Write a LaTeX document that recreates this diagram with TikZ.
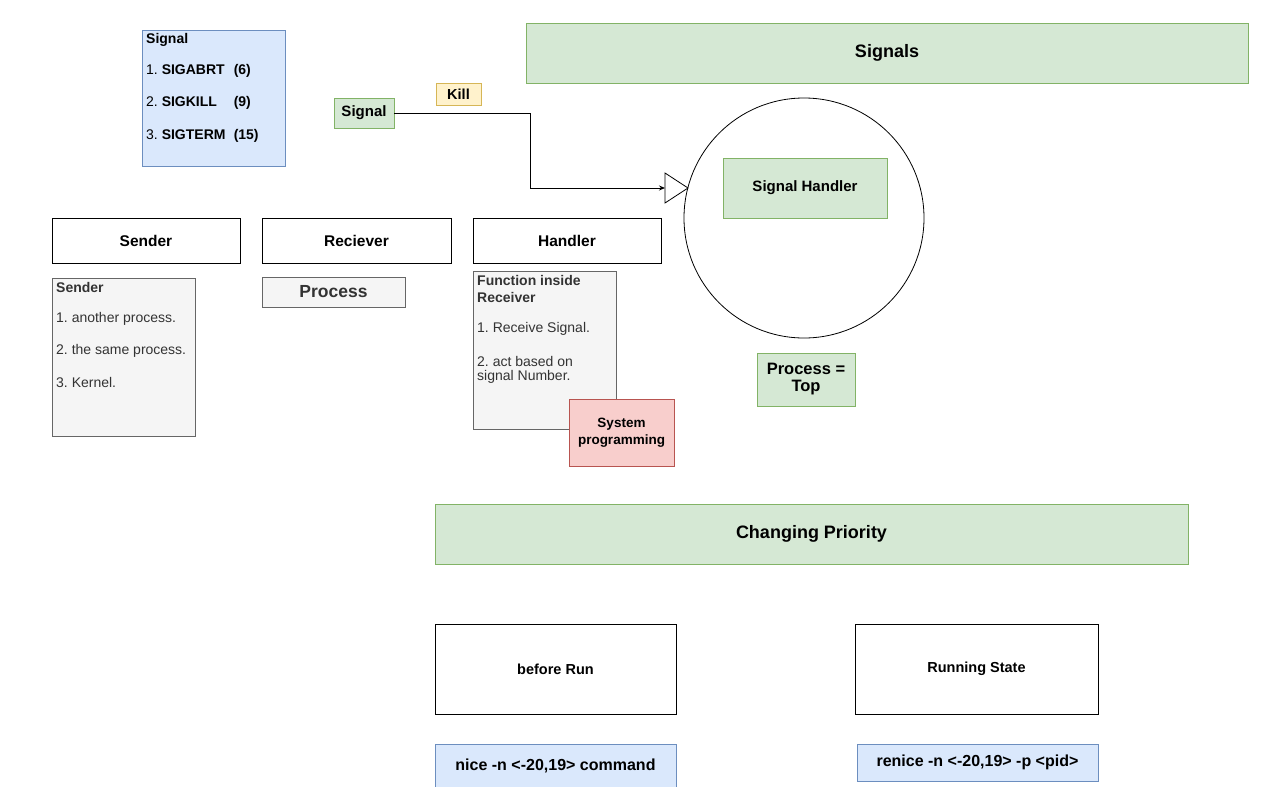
\documentclass[tikz,border=0pt]{standalone}
\usepackage{fontspec}
\setmainfont{Liberation Sans}
\usetikzlibrary{arrows.meta}
\frenchspacing
\definecolor{gfill}{HTML}{D5E8D4}
\definecolor{gdraw}{HTML}{82B366}
\definecolor{bfill}{HTML}{DAE8FC}
\definecolor{bdraw}{HTML}{6C8EBF}
\definecolor{yfill}{HTML}{FFF2CC}
\definecolor{ydraw}{HTML}{D6B656}
\definecolor{rfill}{HTML}{F8CECC}
\definecolor{rdraw}{HTML}{B85450}
\definecolor{sfill}{HTML}{F5F5F5}
\definecolor{sdraw}{HTML}{666666}
\definecolor{stext}{HTML}{333333}
\newcommand{\fs}[1]{\fontsize{#1}{#1}\selectfont}
\tikzset{
  box/.style={draw, line width=0.9pt, inner sep=0pt, align=center},
  green/.style={box, fill=gfill, draw=gdraw},
  blue/.style={box, fill=bfill, draw=bdraw},
  white/.style={box, fill=white, draw=black},
  grey/.style={box, fill=sfill, draw=sdraw, text=stext},
  lbl/.style={anchor=west, inner sep=0pt, align=left},
}
\begin{document}
\begin{tikzpicture}[x=1pt,y=-1pt]
\useasboundingbox (0,0) rectangle (1262,787);
% Signal list
\node[blue, minimum width=143pt, minimum height=136pt] (siglist) at (213.5,98) {};
\node[lbl] (sl0) at (146,39.5) {\fs{14}\textbf{Signal}};
\node[lbl] (sl1) at (146,71) {\fs{14}1. \textbf{\makebox[72pt][l]{SIGABRT}(6)}};
\node[lbl] (sl2) at (146,103) {\fs{14}2. \textbf{\makebox[72pt][l]{SIGKILL}(9)}};
\node[lbl] (sl3) at (146,136) {\fs{14}3. \textbf{\makebox[72pt][l]{SIGTERM}(15)}};
% header
\node[green, minimum width=722pt, minimum height=60pt] (signals) at (887,53) {\fs{18}\textbf{Signals}};
% signal and kill
\node[green, minimum width=60pt, minimum height=30pt] (sig) at (364,113) {\fs{15}\textbf{Signal}};
\node[box, fill=yfill, draw=ydraw, minimum width=45pt, minimum height=22pt] (kill) at (458.5,94) {\fs{14.5}\textbf{Kill}};
% circle
\node[draw, circle, line width=0.8pt, minimum size=240pt, inner sep=0pt] (circ) at (804,218) {};
\node[green, minimum width=164pt, minimum height=60pt] (handlerbox) at (805,188) {\fs{15}\textbf{Signal Handler}};
% triangle
\coordinate (tri) at (665,188);
\coordinate (tritop) at (665,173);
\coordinate (tribot) at (665,203);
\coordinate (triapex) at (688,188);
\draw[line width=0.8pt, fill=white] (tritop) -- (triapex) -- (tribot) -- cycle;
\coordinate (bend) at (530,113);
\draw[line width=0.9pt, -{Stealth[length=6pt,width=5pt]}] (sig.east) -- (bend) |- (tri);
\node[green, minimum width=98pt, minimum height=53pt] (top) at (806,379.5) {\fs{16.5}\textbf{Process =}\\[5pt]\fs{16.5}\textbf{Top}};
% row of three
\node[white, minimum width=188pt, minimum height=45pt] (sender) at (146,240.5) {\fs{15.5}\textbf{Sender}};
\node[white, minimum width=189pt, minimum height=45pt] (recv) at (356.5,240.5) {\fs{15.5}\textbf{Reciever}};
\node[white, minimum width=188pt, minimum height=45pt] (handler) at (567,240.5) {\fs{15.5}\textbf{Handler}};
% sender list
\node[grey, minimum width=143pt, minimum height=158pt] (senderlist) at (123.5,357) {};
\node[lbl, text=stext] (se0) at (56,287.5) {\fs{14}\textbf{Sender}};
\node[lbl, text=stext] (se1) at (56,319) {\fs{14}1. another process.};
\node[lbl, text=stext] (se2) at (56,351) {\fs{14}2. the same process.};
\node[lbl, text=stext] (se3) at (56,382) {\fs{14}3. Kernel.};
% process
\node[grey, minimum width=143pt, minimum height=30pt] (proc) at (333.5,292) {\fs{17.5}\textbf{Process}};
% function box
\node[grey, minimum width=143pt, minimum height=158pt] (func) at (544.5,350) {};
\node[lbl, text=stext] (fu0) at (477,280) {\fs{14}\textbf{Function inside}};
\node[lbl, text=stext] (fu1) at (477,297) {\fs{14}\textbf{Receiver}};
\node[lbl, text=stext] (fu2) at (477,329) {\fs{14}1. Receive Signal.};
\node[lbl, text=stext] (fu3) at (477,361) {\fs{14}2. act based on};
\node[lbl, text=stext] (fu4) at (477,377) {\fs{14}signal Number.};
\node[box, fill=rfill, draw=rdraw, minimum width=105pt, minimum height=67pt] (sysprog) at (621.5,432.5) {\fs{13.5}\textbf{System}\\[3pt]\fs{13.5}\textbf{programming}};
% changing priority
\node[green, minimum width=753pt, minimum height=60pt] (prio) at (811.5,534) {\fs{18}\textbf{Changing Priority}};
\node[white, minimum width=241pt, minimum height=90pt] (before) at (555.5,669) {\fs{14.5}\textbf{before Run}};
\node[white, minimum width=243pt, minimum height=90pt] (running) at (976.5,669) {\fs{14.5}\textbf{Running State}};
\node[blue, minimum width=241pt, minimum height=46pt] (nice) at (555.5,767) {};
\node[inner sep=0pt] (nicetxt) at (555.5,766) {\fs{16}\textbf{nice -n <-20,19> command}};
\node[blue, minimum width=241pt, minimum height=37pt] (renice) at (977.5,762.5) {\fs{16}\textbf{renice -n <-20,19> -p <pid>}};
\end{tikzpicture}
\end{document}
